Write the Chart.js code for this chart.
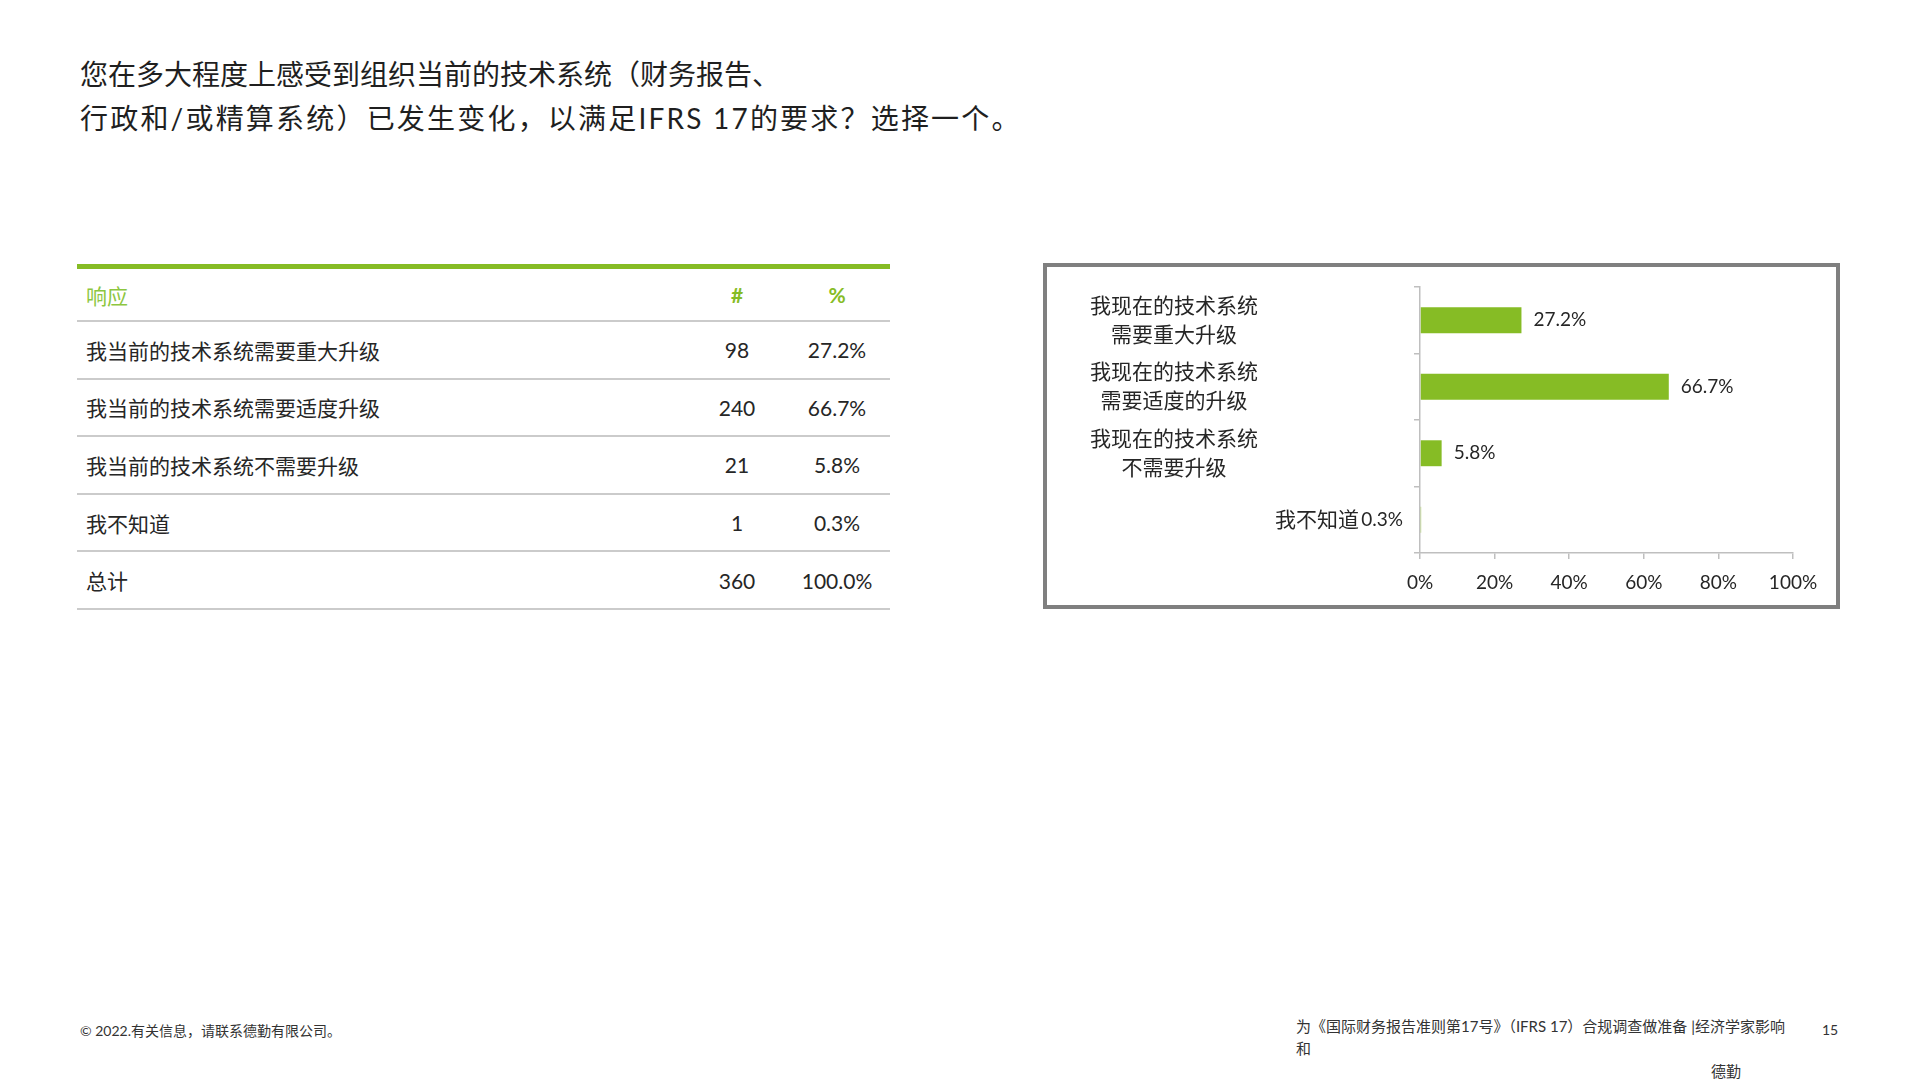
<!DOCTYPE html>
<html>
<head>
<meta charset="utf-8">
<script src="https://cdn.jsdelivr.net/npm/chart.js@4.4.1/dist/chart.umd.min.js"></script>
<style>
	html, body { margin: 0; padding: 0; background: #fff; }
	body { width: 1920px; height: 1080px; position: relative; overflow: hidden;
		font-family: Lato, "Noto Sans CJK SC", sans-serif; color: #262626; }
	.title { position: absolute; left: 80px; top: 52px; font-size: 28px; line-height: 44px; color: #1f1f1f; }
	.title .l2 { letter-spacing: 2.2px; }
	.resp-table { position: absolute; left: 77px; top: 264px; width: 813px; border-collapse: collapse;
		border-top: 5px solid #86bc25; font-size: 21px; }
	.resp-table th, .resp-table td { border-bottom: 2px solid #cbcbcb; padding: 0; }
	.resp-table th { height: 51px; font-weight: normal; color: #8dc63f; }
	.resp-table th.c2, .resp-table th.c3 { font-weight: bold; color: #86bc25; }
	.resp-table td { height: 55.6px; }
	.resp-table .c1 { text-align: left; padding-left: 9px; }
	.resp-table .c2 { width: 94px; text-align: center; }
	.resp-table .c3 { width: 106px; text-align: center; }
	.chart-box { position: absolute; left: 1043px; top: 263px; width: 789px; height: 338px;
		border: 4px solid #7f7f7f; background: #fff; }
	.foot { position: absolute; font-size: 14px; color: #333; }
</style>
</head>
<body>

<div class="title">您在多大程度上感受到组织当前的技术系统（财务报告、<br><span class="l2">行政和/或精算系统）已发生变化，以满足IFRS 17的要求？选择一个。</span></div>

<table class="resp-table" id="respTable"></table>

<div class="chart-box"><canvas id="aysChart" width="789" height="338"></canvas></div>

<div class="foot" style="left:80px; top:1020px;">© 2022.有关信息，请联系德勤有限公司。</div>
<div class="foot" style="left:1296px; top:1015px; line-height:22px; font-size:15px;">为《国际财务报告准则第17号》（IFRS 17）合规调查做准备 |经济学家影响<br>和</div>
<div class="foot" style="left:1711px; top:1060px; font-size:15px;">德勤</div>
<div class="foot" style="left:1822px; top:1021px;">15</div>

<script>
	// table data
	var tableResponses = ['我当前的技术系统需要重大升级', '我当前的技术系统需要适度升级', '我当前的技术系统不需要升级', '我不知道'];
	var tableCounts = [98, 240, 21, 1];
	var tableShares = [27.2, 66.7, 5.8, 0.3];
	var totalCount = 360;
	var totalShare = 100.0;

	// chart data
	var chartCategories = [
		['我现在的技术系统', '需要重大升级'],
		['我现在的技术系统', '需要适度的升级'],
		['我现在的技术系统', '不需要升级'],
		['我不知道']
	];
	var chartShares = [27.2, 66.7, 5.8, 0.3];
	var xTicks = [0, 20, 40, 60, 80, 100];

	var fontFamily = 'Lato, "Noto Sans CJK SC", sans-serif';
	var barGreen = '#86bc25';
	var axisGrey = '#bfbfbf';
	var textColor = '#262626';

	// Build response table
	var tbl = document.getElementById('respTable');
	var html = '<tr><th class="c1">响应</th><th class="c2">#</th><th class="c3">%</th></tr>';
	for (var i = 0; i < tableResponses.length; i++) {
		html += '<tr><td class="c1">' + tableResponses[i] + '</td><td class="c2">' + tableCounts[i] +
			'</td><td class="c3">' + tableShares[i].toFixed(1) + '%</td></tr>';
	}
	html += '<tr><td class="c1">总计</td><td class="c2">' + totalCount + '</td><td class="c3">' + totalShare.toFixed(1) + '%</td></tr>';
	tbl.innerHTML = html;

	// Draw category labels and value labels next to the bars
	var labelPlugin = {
		id: 'aysLabels',
		afterDatasetsDraw: function(chart) {
			var ctx = chart.ctx;
			var xScale = chart.scales.x;
			var yScale = chart.scales.y;
			var meta = chart.getDatasetMeta(0);

			ctx.save();
			ctx.fillStyle = textColor;
			ctx.textBaseline = 'middle';
			ctx.font = '21px ' + fontFamily;
			chartCategories.forEach(function(lines, i) {
				var y = yScale.getPixelForValue(i);
				if (lines.length > 1) {
					ctx.textAlign = 'center';
					lines.forEach(function(line, j) {
						ctx.fillText(line, xScale.left - 246, y + (j - (lines.length - 1) / 2) * 29);
					});
				} else {
					ctx.textAlign = 'right';
					ctx.fillText(lines[0], xScale.left - 61, y);
				}
			});

			// tiny bars get their label on the other side of the axis
			ctx.font = '19px ' + fontFamily;
			meta.data.forEach(function(bar, i) {
				var txt = chartShares[i].toFixed(1) + '%';
				if (bar.x - bar.base < 3) {
					ctx.textAlign = 'right';
					ctx.fillText(txt, xScale.left - 17, bar.y);
				} else {
					ctx.textAlign = 'left';
					ctx.fillText(txt, bar.x + 12, bar.y);
				}
			});
			ctx.restore();
		}
	};

	var chartObject = new Chart(document.getElementById('aysChart'), {
		type: 'bar',
		data: {
			labels: chartCategories,
			datasets: [{
				data: chartShares,
				backgroundColor: barGreen,
				borderWidth: 0,
				categoryPercentage: 1,
				barPercentage: 0.39
			}]
		},
		options: {
			indexAxis: 'y',
			responsive: false,
			animation: false,
			layout: { padding: { top: 20, right: 43, bottom: 0, left: 0 } },
			plugins: { legend: { display: false }, tooltip: { enabled: false } },
			scales: {
				x: {
					min: 0,
					max: 100,
					afterBuildTicks: function(s) {
						s.ticks = xTicks.map(function(v) { return { value: v }; });
					},
					afterFit: function(s) { s.height = 52; },
					grid: { drawOnChartArea: false, tickLength: 6, color: axisGrey, lineWidth: 1.5 },
					border: { color: axisGrey, width: 1.5 },
					ticks: {
						padding: 12,
						color: textColor,
						font: { family: fontFamily, size: 19 },
						callback: function(v) { return v + '%'; }
					}
				},
				y: {
					afterFit: function(s) { s.width = 373; },
					grid: { offset: true, drawOnChartArea: false, tickLength: 6, color: axisGrey, lineWidth: 1.5 },
					border: { color: axisGrey, width: 1.5 },
					ticks: { display: false }
				}
			}
		},
		plugins: [labelPlugin]
	});
</script>
</body>
</html>
